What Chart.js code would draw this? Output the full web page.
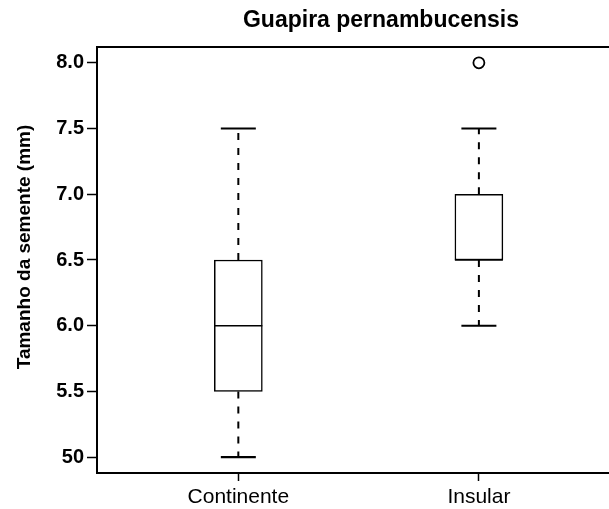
<!DOCTYPE html>
<html>
<head>
<meta charset="utf-8">
<script src="https://cdn.jsdelivr.net/npm/chart.js@4.4.1/dist/chart.umd.min.js"></script>
<style>
  html, body { margin: 0; padding: 0; background: #fff; overflow: hidden; }
  #wrap { width: 609px; height: 509px; }
</style>
</head>
<body>
<div id="wrap"><canvas id="box"></canvas></div>
<script>
// ── DATA ──
const chartTitle  = "Guapira pernambucensis";
const yTitle      = "Tamanho da semente (mm)";
const groups      = ["Continente", "Insular"];
const groupPos    = [1, 2];
const whiskerLow  = [5.0, 6.0];
const q1          = [5.5, 6.5];
const median      = [6.0, 6.5];
const q3          = [6.5, 7.0];
const whiskerHigh = [7.5, 7.5];
const outliers    = [{ group: 2, value: 8.0 }];
const yTickValues = [5.0, 5.5, 6.0, 6.5, 7.0, 7.5, 8.0];
const yTickLabels = ["50", "5.5", "6.0", "6.5", "7.0", "7.5", "8.0"];

const FONT = "'Liberation Sans', Arial, sans-serif";

// ── R-style whiskers, medians, frame and titles ──
const boxExtras = {
  id: "boxExtras",
  afterDatasetsDraw(chart) {
    const { ctx, chartArea: a, scales: { x, y } } = chart;
    ctx.save();
    ctx.strokeStyle = "#000";
    groupPos.forEach((g, i) => {
      const cx = x.getPixelForValue(g);
      const half = 24;
      const cap = 17.5;
      // dashed whiskers
      ctx.lineWidth = 2;
      ctx.setLineDash([7, 8]);
      ctx.beginPath();
      ctx.moveTo(cx, y.getPixelForValue(q1[i]));
      ctx.lineTo(cx, y.getPixelForValue(whiskerLow[i]));
      ctx.moveTo(cx, y.getPixelForValue(q3[i]));
      ctx.lineTo(cx, y.getPixelForValue(whiskerHigh[i]));
      ctx.stroke();
      ctx.setLineDash([]);
      // caps
      ctx.lineWidth = 2.2;
      ctx.beginPath();
      [whiskerLow[i], whiskerHigh[i]].forEach(v => {
        const py = y.getPixelForValue(v);
        ctx.moveTo(cx - cap, py);
        ctx.lineTo(cx + cap, py);
      });
      ctx.stroke();
      // median
      ctx.lineWidth = 1.5;
      ctx.beginPath();
      const my = y.getPixelForValue(median[i]);
      ctx.moveTo(cx - half, my);
      ctx.lineTo(cx + half, my);
      ctx.stroke();
    });
    // frame (right side falls outside the picture)
    ctx.lineWidth = 2;
    ctx.beginPath();
    ctx.moveTo(a.right + 20, a.top);
    ctx.lineTo(a.left, a.top);
    ctx.lineTo(a.left, a.bottom);
    ctx.lineTo(a.right + 20, a.bottom);
    ctx.stroke();
    // titles
    ctx.fillStyle = "#000";
    ctx.textAlign = "center";
    ctx.textBaseline = "middle";
    ctx.font = "bold 23px " + FONT;
    ctx.fillText(chartTitle, 381, 21);
    ctx.translate(25, 247);
    ctx.rotate(-Math.PI / 2);
    ctx.font = "bold 19px " + FONT;
    ctx.fillText(yTitle, 0, 0);
    ctx.restore();
  }
};

new Chart(document.getElementById("box"), {
  type: "bar",
  data: {
    datasets: [
      {
        type: "bar",
        data: groupPos.map((g, i) => ({ x: g, y: [q1[i], q3[i]] })),
        backgroundColor: "#fff",
        borderColor: "#000",
        borderWidth: 1.5,
        borderSkipped: false,
        barThickness: 48
      },
      {
        type: "scatter",
        data: outliers.map(o => ({ x: o.group, y: o.value })),
        pointRadius: 5.5,
        pointBackgroundColor: "#fff",
        pointBorderColor: "#000",
        pointBorderWidth: 1.8
      }
    ]
  },
  options: {
    responsive: true,
    maintainAspectRatio: false,
    animation: false,
    layout: { padding: { top: 47, right: 0, left: 0, bottom: 0 } },
    plugins: { legend: { display: false }, tooltip: { enabled: false }, title: { display: false } },
    scales: {
      x: {
        type: "linear",
        offset: false,
        min: 0.4125,
        max: 2.5105,
        afterBuildTicks: s => { s.ticks = groupPos.map(v => ({ value: v })); },
        afterFit: s => { s.height = 36; },
        ticks: {
          color: "#000",
          padding: 4,
          font: { family: FONT, size: 21 },
          callback: v => groups[groupPos.indexOf(v)]
        },
        grid: { offset: false, drawOnChartArea: false, drawTicks: true, tickLength: 8, tickColor: "#000", tickWidth: 1.5 },
        border: { display: false }
      },
      y: {
        min: 4.88,
        max: 8.12,
        afterBuildTicks: s => { s.ticks = yTickValues.map(v => ({ value: v })); },
        afterFit: s => { s.width = 97; },
        ticks: {
          color: "#000",
          padding: 3,
          font: { family: FONT, size: 20, weight: "bold" },
          callback: v => yTickLabels[yTickValues.indexOf(v)]
        },
        grid: { drawOnChartArea: false, drawTicks: true, tickLength: 10, tickColor: "#000", tickWidth: 1.5 },
        border: { display: false }
      }
    }
  },
  plugins: [boxExtras]
});
</script>
</body>
</html>
